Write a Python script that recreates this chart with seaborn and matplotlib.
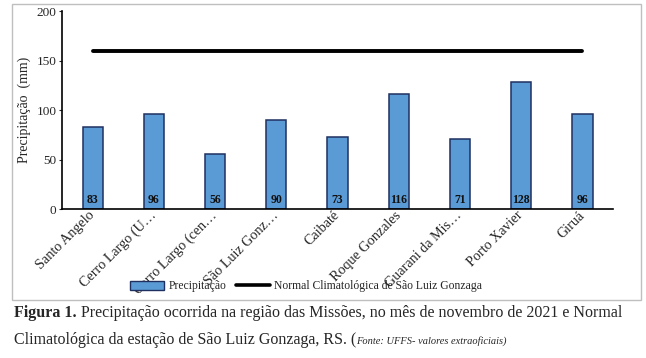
import matplotlib
matplotlib.use("Agg")
import matplotlib.pyplot as plt
import numpy as np
import pandas as pd
import seaborn as sns
from matplotlib.lines import Line2D
from matplotlib.patches import Patch, Rectangle

stations = [
    "Santo Angelo",
    "Cerro Largo (U…",
    "Cerro Largo (cen…",
    "São Luiz Gonz…",
    "Caibaté",
    "Roque Gonzales",
    "Guarani da Mis…",
    "Porto Xavier",
    "Giruá",
]
precip = [83, 96, 56, 90, 73, 116, 71, 128, 96]
normal = [160] * len(stations)

BAR_COLOR = "#5b9bd5"
EDGE_COLOR = "#1f3060"

sns.set_style("white")
plt.rcParams["font.family"] = ["Liberation Serif", "DejaVu Serif"]

df = pd.DataFrame({"station": stations, "precip": precip})

fig = plt.figure(figsize=(6.46, 3.58), dpi=100)
ax = fig.add_axes([0.096, 0.416, 0.853, 0.553])

sns.barplot(data=df, x="station", y="precip", color=BAR_COLOR, width=0.33,
            edgecolor=EDGE_COLOR, linewidth=1.1, saturation=1, ax=ax)
ax.plot(np.arange(len(stations)), normal, color="black", linewidth=2.8)

for i, v in enumerate(precip):
    ax.text(i, 3, str(v), ha="center", va="bottom", fontsize=8.5,
            fontweight="bold", color="#111111")

ax.set_xlim(-0.5, len(stations) - 0.5)
ax.set_ylim(0, 200)
ax.set_yticks([0, 50, 100, 150, 200])
ax.tick_params(axis="y", labelsize=9.5, length=2, pad=2, left=True)
ax.tick_params(axis="x", length=0, pad=3)
ax.set_xticks(range(len(stations)))
ax.set_xticklabels(stations, rotation=45, ha="right", va="center",
                   rotation_mode="anchor", fontsize=10.2)
ax.set_xlabel("")
ax.set_ylabel("Precipitação  (mm)", fontsize=10)
for s in ["top", "right"]:
    ax.spines[s].set_visible(False)
for s in ["left", "bottom"]:
    ax.spines[s].set_color("black")
    ax.spines[s].set_linewidth(1.2)

handles = [
    Patch(facecolor=BAR_COLOR, edgecolor=EDGE_COLOR, linewidth=1),
    Line2D([0], [0], color="black", linewidth=2.6),
]
fig.legend(handles, ["Precipitação", "Normal Climatológica de São Luiz Gonzaga"],
           loc="center", bbox_to_anchor=(0.474, 0.2), ncol=2, frameon=False,
           fontsize=8.4, handlelength=2.9, handleheight=0.9, columnspacing=0.8,
           handletextpad=0.4)

fig.add_artist(Rectangle((0.019, 0.163), 0.973, 0.826, transform=fig.transFigure,
                         fill=False, edgecolor="#bfbfbf", linewidth=1))

# caption: place the pieces one after another using their drawn widths
renderer = fig.canvas.get_renderer()
inv = fig.transFigure.inverted()


def put_after(prev, text, y, **kw):
    bb = prev.get_window_extent(renderer)
    x = inv.transform((bb.x1, bb.y0))[0]
    return fig.text(x, y, text, va="baseline", **kw)


y1, y2 = 0.115, 0.04
t = fig.text(0.022, y1, "Figura 1.", fontsize=11.5, fontweight="bold", va="baseline")
put_after(t, " Precipitação ocorrida na região das Missões, no mês de novembro de 2021 e Normal",
          y1, fontsize=11.5)
t = fig.text(0.022, y2, "Climatológica da estação de São Luiz Gonzaga, RS. (",
             fontsize=11.5, va="baseline")
put_after(t, "Fonte: UFFS- valores extraoficiais)", y2, fontsize=7.5, style="italic")

fig.savefig("out.png", dpi=100)
